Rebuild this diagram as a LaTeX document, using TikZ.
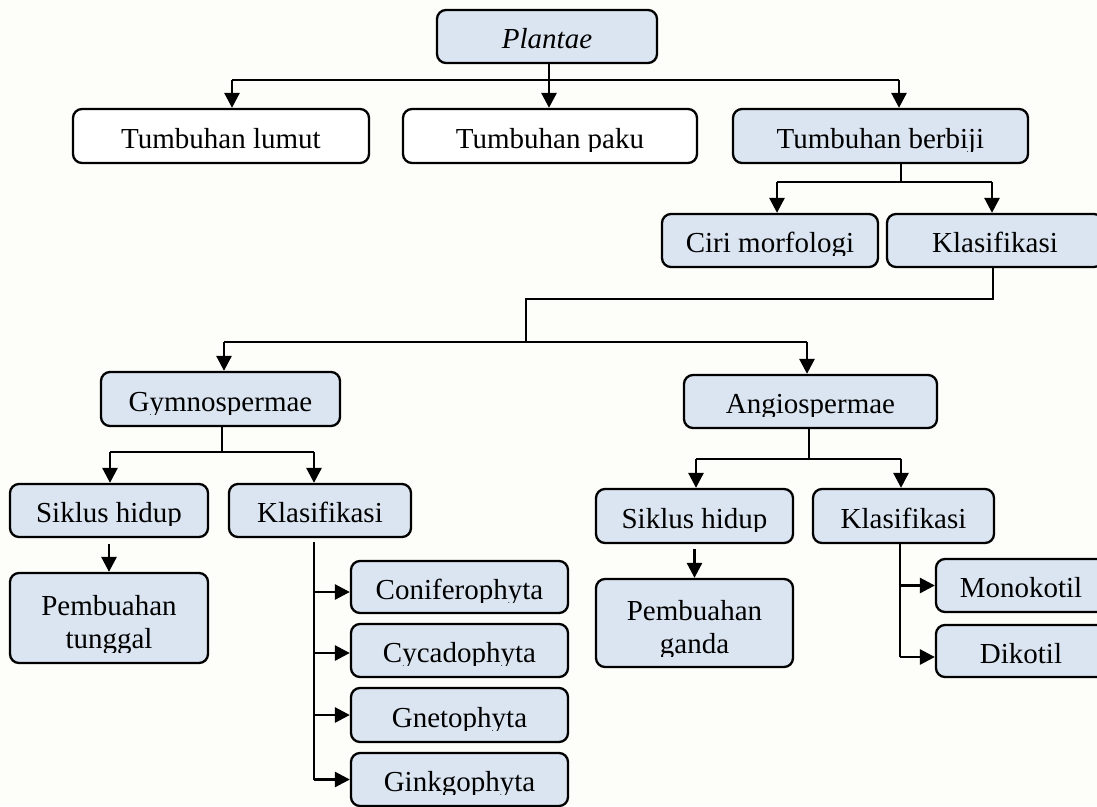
\documentclass[tikz,border=0pt]{standalone}
\usepackage{fontspec}
\setmainfont{Liberation Serif}
\usetikzlibrary{arrows.meta,calc}
\definecolor{boxblue}{RGB}{219,229,241}
\definecolor{paper}{RGB}{253,253,249}
\begin{document}
\begin{tikzpicture}[x=1pt,y=-1pt,
  tbox/.style={draw, line width=2.3pt, rounded corners=9pt, fill=boxblue, inner sep=0pt},
  wbox/.style={tbox, fill=white},
  txt/.style={font=\fontsize{29}{33}\selectfont, inner sep=0pt, anchor=base},
  txttwo/.style={txt, align=center, anchor=center},
  conn/.style={line width=2.8pt},
  arr/.style={conn, -{Triangle[length=15pt,width=15pt]}}]

\fill[paper] (0,0) rectangle (1097,806);
\useasboundingbox (0,0) rectangle (1097,806);
\clip (0,0) rectangle (1097,806);

% ---- boxes ----
\node[tbox, minimum width=220pt, minimum height=53pt] (pl) at (547,36.5) {};
\node[wbox, minimum width=296pt, minimum height=54pt] (lu) at (221,136) {};
\node[wbox, minimum width=294pt, minimum height=54pt] (pa) at (550,136) {};
\node[tbox, minimum width=295pt, minimum height=54pt] (be) at (880.5,136) {};
\node[tbox, minimum width=216pt, minimum height=53pt] (cm) at (770,240.5) {};
\node[tbox, minimum width=216pt, minimum height=53pt] (k1) at (995,240.5) {};
\node[tbox, minimum width=239pt, minimum height=54pt] (gy) at (220.5,399) {};
\node[tbox, minimum width=253pt, minimum height=53pt] (an) at (810.5,401.5) {};
\node[tbox, minimum width=198pt, minimum height=53pt] (gs) at (109,510.5) {};
\node[tbox, minimum width=182pt, minimum height=53pt] (gk) at (320,510.5) {};
\node[tbox, minimum width=198pt, minimum height=90pt] (gp) at (109,618) {};
\node[tbox, minimum width=217pt, minimum height=52pt] (c1) at (459.5,587) {};
\node[tbox, minimum width=217pt, minimum height=53pt] (c2) at (459.5,650.5) {};
\node[tbox, minimum width=217pt, minimum height=54pt] (c3) at (459.5,715) {};
\node[tbox, minimum width=217pt, minimum height=53pt] (c4) at (459.5,779.5) {};
\node[tbox, minimum width=197pt, minimum height=54pt] (as) at (694.5,516) {};
\node[tbox, minimum width=181pt, minimum height=54pt] (ak) at (903.5,516) {};
\node[tbox, minimum width=197pt, minimum height=88pt] (ap) at (694.5,623) {};
\node[tbox, minimum width=170pt, minimum height=53pt] (mo) at (1021,585.5) {};
\node[tbox, minimum width=170pt, minimum height=52pt] (di) at (1021,651) {};

% ---- connectors ----
% Plantae to the three groups
\coordinate (r1) at (549,80);
\coordinate (r1l) at (232,80);
\coordinate (r1r) at (899,80);
\draw[conn] (r1 |- pl.south) -- (r1);
\draw[conn] (r1l) -- (r1r);
\draw[arr] (r1l) -- (r1l |- lu.north);
\draw[arr] (r1) -- (r1 |- pa.north);
\draw[arr] (r1r) -- (r1r |- be.north);

% Tumbuhan berbiji
\coordinate (r2) at (901,182);
\coordinate (r2l) at (777,182);
\coordinate (r2r) at (992,182);
\draw[conn] (r2 |- be.south) -- (r2);
\draw[conn] (r2l) -- (r2r);
\draw[arr] (r2l) -- (r2l |- cm.north);
\draw[arr] (r2r) -- (r2r |- k1.north);

% Klasifikasi to Gymnospermae / Angiospermae
\coordinate (r3a) at (993,299);
\coordinate (r3b) at (526,299);
\coordinate (r3c) at (526,342);
\coordinate (r3l) at (224,342);
\coordinate (r3r) at (807,342);
\draw[conn] (r3a |- k1.south) -- (r3a) -- (r3b) -- (r3c);
\draw[conn] (r3l) -- (r3r);
\draw[arr] (r3l) -- (r3l |- gy.north);
\draw[arr] (r3r) -- (r3r |- an.north);

% Gymnospermae
\coordinate (g0) at (222,452);
\coordinate (gl) at (110,452);
\coordinate (gr) at (314,452);
\draw[conn] (g0 |- gy.south) -- (g0);
\draw[conn] (gl) -- (gr);
\draw[arr] (gl) -- (gl |- gs.north);
\draw[arr] (gr) -- (gr |- gk.north);
\draw[arr] ([yshift=-6pt]gs.south) -- (gp.north);

\coordinate (gkx) at (314,542);
\draw[conn] (gkx) -- (gkx |- c4.west);
\draw[arr] (gkx |- 0,592) -- (c1.west |- 0,592);
\draw[arr] (gkx |- 0,653) -- (c2.west |- 0,653);
\draw[arr] (gkx |- c3.west) -- (c3.west);
\draw[arr] (gkx |- c4.west) -- (c4.west);

% Angiospermae
\coordinate (a0) at (809,459);
\coordinate (al) at (696,459);
\coordinate (ar) at (901,459);
\draw[conn] (a0 |- an.south) -- (a0);
\draw[conn] (al) -- (ar);
\draw[arr] (al) -- (al |- as.north);
\draw[arr] (ar) -- (ar |- ak.north);
\draw[arr] ([yshift=-5pt]as.south) -- (ap.north);

\coordinate (akx) at (900,543);
\draw[conn] (akx) -- (akx |- 0,657);
\draw[arr] (akx |- mo.west) -- (mo.west);
\draw[arr] (akx |- 0,657) -- (di.west |- 0,657);

% ---- texts (descenders trimmed just below the baseline) ----
\begin{scope}
\clip foreach \n in {pl,lu,pa,be,cm,k1,gy,an,gs,gk,as,ak,c1,c2,c3,c4,mo,di}
  {(\n.north west) rectangle ($(\n.east)+(0,15)$)}
  (gp.north west) rectangle ($(gp.south east)+(0,-12)$)
  (ap.north west) rectangle ($(ap.south east)+(0,-12)$);
\node[txt] (plT) at ($(pl.center)+(0,12)$) {\itshape Plantae};
\node[txt] (luT) at ($(lu.center)+(0,12)$) {Tumbuhan lumut};
\node[txt] (paT) at ($(pa.center)+(0,12)$) {Tumbuhan paku};
\node[txt] (beT) at ($(be.center)+(0,12)$) {Tumbuhan berbiji};
\node[txt] (cmT) at ($(cm.center)+(0,12)$) {Ciri morfologi};
\node[txt] (k1T) at ($(k1.center)+(0,12)$) {Klasifikasi};
\node[txt] (gyT) at ($(gy.center)+(0,12)$) {Gymnospermae};
\node[txt] (anT) at ($(an.center)+(0,12)$) {Angiospermae};
\node[txt] (gsT) at ($(gs.center)+(0,12)$) {Siklus hidup};
\node[txt] (gkT) at ($(gk.center)+(0,12)$) {Klasifikasi};
\node[txt] (asT) at ($(as.center)+(0,12)$) {Siklus hidup};
\node[txt] (akT) at ($(ak.center)+(0,12)$) {Klasifikasi};
\node[txt] (c1T) at ($(c1.center)+(0,12)$) {Coniferophyta};
\node[txt] (c2T) at ($(c2.center)+(0,12)$) {Cycadophyta};
\node[txt] (c3T) at ($(c3.center)+(0,12)$) {Gnetophyta};
\node[txt] (c4T) at ($(c4.center)+(0,12)$) {Ginkgophyta};
\node[txt] (moT) at ($(mo.center)+(0,12)$) {Monokotil};
\node[txt] (diT) at ($(di.center)+(0,12)$) {Dikotil};
\node[txttwo] (gpT) at ($(gp.center)+(0,7)$) {Pembuahan\\tunggal};
\node[txttwo] (apT) at ($(ap.center)+(0,7)$) {Pembuahan\\ganda};
\end{scope}
\end{tikzpicture}
\end{document}
